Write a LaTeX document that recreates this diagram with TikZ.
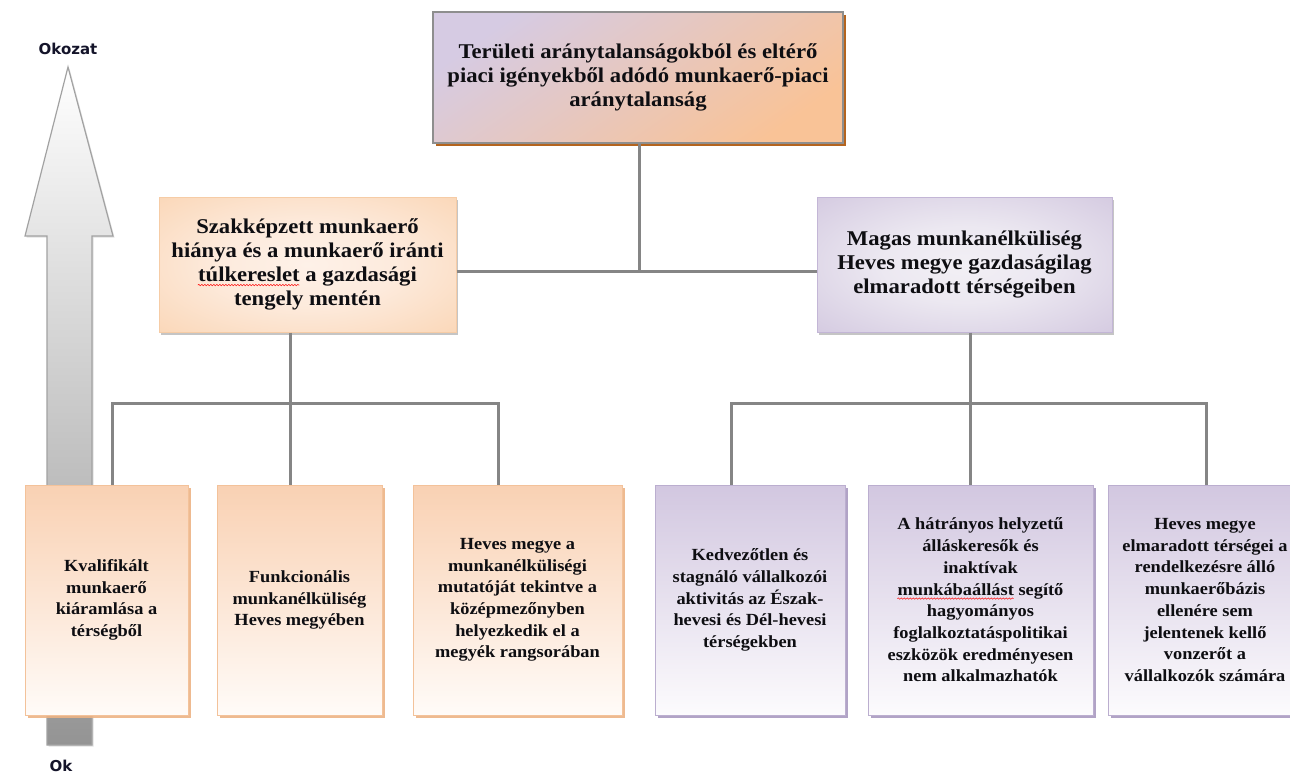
\documentclass[tikz,border=0pt]{standalone}
\usepackage{fontspec}
\setmainfont{Liberation Serif}[FakeStretch=1.08]
\newfontfamily\lblfont{DejaVu Sans}
\usetikzlibrary{shadows,decorations.pathmorphing,calc}

\definecolor{connc}{HTML}{858585}
\definecolor{txt}{HTML}{0E0E12}
\definecolor{peachT}{HTML}{F9D1B3}
\definecolor{peachB}{HTML}{FFFBF8}
\definecolor{peachEdge}{HTML}{F3C29A}
\definecolor{peachShadow}{HTML}{EDB385}
\definecolor{lavT}{HTML}{D2C7E0}
\definecolor{lavB}{HTML}{FCFBFD}
\definecolor{lavEdge}{HTML}{BBAECF}
\definecolor{lavShadow}{HTML}{A999C0}
\definecolor{topLav}{HTML}{D6CBE3}
\definecolor{topPeach}{HTML}{F9C397}
\definecolor{topEdge}{HTML}{8E8E8E}
\definecolor{topShadow}{HTML}{B4641E}
\definecolor{midLEdge}{HTML}{F6CCA6}
\definecolor{midREdge}{HTML}{C3B6D6}
\definecolor{arrowEdge}{HTML}{A2A2A2}
\definecolor{lblc}{HTML}{14142A}

\pgfdeclareradialshading{midLshade}{\pgfpoint{0bp}{0bp}}{%
  rgb(0bp)=(0.996,0.945,0.910); rgb(15bp)=(0.992,0.920,0.865);
  rgb(48bp)=(0.975,0.800,0.640); rgb(72bp)=(0.962,0.745,0.555)}
\pgfdeclareradialshading{midRshade}{\pgfpoint{0bp}{0bp}}{%
  rgb(0bp)=(0.950,0.940,0.960); rgb(14bp)=(0.925,0.910,0.945);
  rgb(45bp)=(0.795,0.745,0.855); rgb(72bp)=(0.700,0.630,0.790)}

\newsavebox\spellbox
\newcommand\spellerr[1]{\sbox\spellbox{#1}\usebox\spellbox\llap{\tikz[baseline=0pt]{\draw[red,line width=0.5pt,decorate,decoration={snake,amplitude=0.7pt,segment length=3pt}] (0pt,-3.5pt) -- (\wd\spellbox,-3.5pt);}}}

\tikzset{
  conn/.style={draw=connc, line width=3pt},
  boxbase/.style={inner sep=0pt, align=center, text=txt},
  bigtext/.style={font=\bfseries\fontsize{21}{24}\selectfont},
  smalltext/.style={font=\bfseries\fontsize{17}{21.7}\selectfont},
  topbox/.style={boxbase, bigtext, draw=topEdge, line width=1.5pt,
    top color=topLav, bottom color=topPeach, shading angle=35,
    drop shadow={shadow xshift=3pt, shadow yshift=-3pt, fill=topShadow, opacity=1}},
  midLbox/.style={boxbase, bigtext, draw=midLEdge, line width=1pt, shading=midLshade,
    drop shadow={shadow xshift=2pt, shadow yshift=-3pt, fill=black!45, opacity=0.5}},
  midRbox/.style={boxbase, bigtext, draw=midREdge, line width=1pt, shading=midRshade,
    drop shadow={shadow xshift=2pt, shadow yshift=-3pt, fill=black!45, opacity=0.5}},
  peachbox/.style={boxbase, smalltext, draw=peachEdge, line width=1pt,
    top color=peachT, bottom color=peachB, minimum height=230pt,
    drop shadow={shadow xshift=2.5pt, shadow yshift=-2.5pt, fill=peachShadow, opacity=0.9}},
  lavbox/.style={boxbase, smalltext, draw=lavEdge, line width=1pt,
    top color=lavT, bottom color=lavB, minimum height=230pt,
    drop shadow={shadow xshift=2.5pt, shadow yshift=-2.5pt, fill=lavShadow, opacity=0.9}},
  lbl/.style={font=\lblfont\bfseries\fontsize{15}{18}\selectfont, text=lblc, inner sep=0pt}
}

\begin{document}
\begin{tikzpicture}[x=1pt, y=-1pt]
\useasboundingbox (0,0) rectangle (1290,774);
\clip (0,0) rectangle (1290,774);
\fill[white] (0,0) rectangle (1290,774);

% cause-effect arrow
\path[draw=arrowEdge, line width=1.2pt, line join=miter, top color=white, bottom color=black!42,
  drop shadow={shadow xshift=1.5pt, shadow yshift=-1.5pt, fill=black!30, opacity=0.4}]
  (68,67) -- (113,236) -- (92,236) -- (92,745) -- (47,745) -- (47,236) -- (25,236) -- cycle;
\node[lbl] (effect) at (68,49) {Okozat};
\node[lbl] (cause) at (61,766) {Ok};

% connectors
\coordinate (jT) at (639,271);
\coordinate (jL) at (290,403);
\coordinate (dL1) at (112,403);
\coordinate (dL3) at (498,403);
\coordinate (jR) at (970,403);
\coordinate (dR1) at (731,403);
\coordinate (dR3) at (1206,403);

% boxes
\node[topbox, minimum width=410pt, minimum height=131pt] (top) at (638,77.5)
  {Területi aránytalanságokból és eltérő\\piaci igényekből adódó munkaerő-piaci\\aránytalanság};
\node[midLbox, minimum width=297pt, minimum height=135pt] (midL) at (307.5,264.5)
  {Szakképzett munkaerő\\hiánya és a munkaerő iránti\\\spellerr{túlkereslet} a gazdasági\\tengely mentén};
\node[midRbox, minimum width=295pt, minimum height=135pt] (midR) at (964.5,264.5)
  {Magas munkanélküliség\\Heves megye gazdaságilag\\elmaradott térségeiben};

\node[peachbox, minimum width=163pt] (b1) at (106.5,600)
  {Kvalifikált\\munkaerő\\kiáramlása a\\térségből};
\node[peachbox, minimum width=165pt] (b2) at (299.5,600)
  {Funkcionális\\munkanélküliség\\Heves megyében};
\node[peachbox, minimum width=209pt] (b3) at (517.5,600)
  {Heves megye a\\munkanélküliségi\\mutatóját tekintve a\\középmezőnyben\\helyezkedik el a\\megyék rangsorában};
\node[lavbox, minimum width=190pt] (b4) at (750,600)
  {Kedvezőtlen és\\stagnáló vállalkozói\\aktivitás az Észak-\\hevesi és Dél-hevesi\\térségekben};
\node[lavbox, minimum width=225pt] (b5) at (980.5,600)
  {A hátrányos helyzetű\\álláskeresők és\\inaktívak\\\spellerr{munkábaállást} segítő\\hagyományos\\foglalkoztatáspolitikai\\eszközök eredményesen\\nem alkalmazhatók};
\node[lavbox, minimum width=194pt] (b6) at (1205,600)
  {Heves megye\\elmaradott térségei a\\rendelkezésre álló\\munkaerőbázis\\ellenére sem\\jelentenek kellő\\vonzerőt a\\vállalkozók számára};

\draw[conn] (top.south -| jT) -- (jT);
\draw[conn] (midL.east |- jT) -- (midR.west |- jT);
\draw[conn] (midL.south -| jL) -- (jL) -- (b2.north -| jL);
\draw[conn] (b1.north -| dL1) -- (dL1) -- (dL3) -- (b3.north -| dL3);
\draw[conn] (midR.south -| jR) -- (jR) -- (b5.north -| jR);
\draw[conn] (b4.north -| dR1) -- (dR1) -- (dR3) -- (b6.north -| dR3);
\end{tikzpicture}
\end{document}
